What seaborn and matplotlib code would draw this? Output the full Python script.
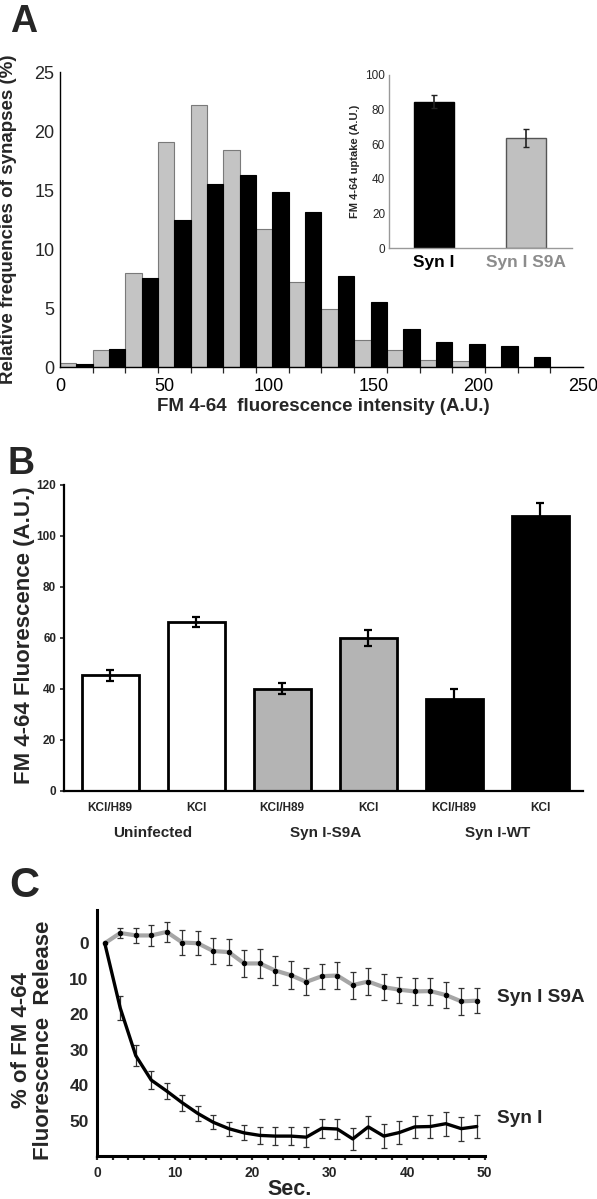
import numpy as np
import pandas as pd
import matplotlib
matplotlib.use("Agg")
import matplotlib.pyplot as plt
import matplotlib.transforms as mtransforms
import seaborn as sns

# ---- panel A: histogram of FM 4-64 intensities (16 bins over 0-250) ----
bin_count = 16
hist_max = 250
freq_s9a = [0.34, 1.41, 8.0, 19.1, 22.2, 18.4, 11.7, 7.2, 4.94, 2.32, 1.41, 0.62, 0.51, 0, 0, 0]
freq_syn = [0.28, 1.53, 7.54, 12.5, 15.5, 16.3, 14.8, 13.1, 7.68, 5.5, 3.19, 2.09, 1.92, 1.81, 0.85, 0]
hist_groups = ["Syn I S9A", "Syn I"]

# inset
inset_names = ["Syn I", "Syn I S9A"]
inset_means = [84.6, 63.5]
inset_err = [3.9, 5.2]

# ---- panel B ----
b_ids = ["u1", "u2", "s1", "s2", "w1", "w2"]
b_treat = ["KCl/H89", "KCl", "KCl/H89", "KCl", "KCl/H89", "KCl"]
b_groups = ["Uninfected", "Syn I-S9A", "Syn I-WT"]
b_means = [45.3, 66.4, 40.1, 60.1, 36.0, 107.8]
b_err = [2.1, 2.0, 2.2, 3.2, 3.9, 5.0]
b_colors = ["white", "white", "#b4b4b4", "#b4b4b4", "black", "black"]

# ---- panel C: release kinetics ----
sec = list(range(1, 50, 2))
rel_s9a = [0, -2.9, -2.2, -2.2, -3.2, -0.2, 0.0, 2.2, 2.5, 5.7, 5.7, 7.7, 9.0,
           10.9, 9.3, 9.1, 11.8, 10.8, 12.4, 13.1, 13.6, 13.5, 14.6, 16.4, 16.2]
err_s9a = [0, 1.4, 2.2, 3.0, 2.8, 3.4, 3.4, 3.7, 3.6, 3.7, 4.0, 4.0, 3.9,
           3.8, 3.5, 3.7, 3.8, 3.7, 3.7, 3.7, 3.8, 3.8, 3.7, 3.8, 3.5]
rel_syn = [0, 18.3, 31.7, 38.6, 41.7, 45.0, 48.0, 50.5, 52.3, 53.5, 54.2, 54.4, 54.4,
           54.7, 52.2, 52.4, 55.2, 51.8, 54.4, 53.4, 51.8, 51.7, 50.9, 52.3, 51.7]
err_syn = [0, 3.4, 2.9, 2.6, 2.3, 2.2, 2.0, 2.0, 2.0, 2.1, 2.3, 2.5, 2.5,
           2.8, 2.7, 2.9, 3.1, 3.0, 3.3, 3.3, 3.1, 3.3, 3.4, 3.4, 3.3]

sns.set_style("white")
plt.rcParams["font.family"] = ["Liberation Sans", "DejaVu Sans"]
narrow = ["Liberation Sans Narrow", "Liberation Sans", "DejaVu Sans"]

fig = plt.figure(figsize=(5.97, 11.99), dpi=100)

# ================= panel A =================
axA = fig.add_axes([0.1005, 0.6939, 0.876, 0.246])
bw = hist_max / bin_count
hist_df = pd.DataFrame({
    "center": [bw * (i + 0.5) for i in range(bin_count)] * 2,
    "freq": freq_s9a + freq_syn,
    "group": [hist_groups[0]] * bin_count + [hist_groups[1]] * bin_count,
})
sns.barplot(data=hist_df, x="center", y="freq", hue="group", hue_order=hist_groups,
            native_scale=True, width=1.0, dodge=True, errorbar=None,
            palette={"Syn I S9A": "#c4c4c4", "Syn I": "black"}, legend=False,
            saturation=1, ax=axA)
for cont, ec in zip(axA.containers, ["#7a7a7a", "black"]):
    for p in cont:
        p.set_edgecolor(ec)
        p.set_linewidth(0.8)
axA.set_xlim(0, hist_max)
axA.set_ylim(0, 25)
axA.set_xticks(range(0, 251, 50))
axA.set_xticks([bw * i for i in range(bin_count + 1)], minor=True)
axA.set_yticks(range(0, 26, 5))
axA.tick_params(axis="x", which="major", length=0, labelsize=13, pad=8, colors="black")
axA.tick_params(axis="x", which="minor", length=4, width=0.9, direction="out", bottom=True)
axA.tick_params(axis="y", length=0, labelsize=13, pad=4)
for s in ["top", "right"]:
    axA.spines[s].set_visible(False)
for s in ["left", "bottom"]:
    axA.spines[s].set_color("black")
    axA.spines[s].set_linewidth(1.0)
axA.set_xlabel("FM 4-64  fluorescence intensity (A.U.)", fontsize=13.5, fontweight="bold")
axA.set_ylabel("Relative frequencies of synapses (%)", fontsize=13.5, fontweight="bold")
axA.xaxis.set_label_coords(0.503, -0.105)
axA.yaxis.set_label_coords(-0.083, 0.5)

# inset
axI = fig.add_axes([0.652, 0.7929, 0.3055, 0.1446])
sns.barplot(x=inset_names, y=inset_means, hue=inset_names,
            palette=["black", "#c0c0c0"], saturation=1, width=0.44,
            errorbar=None, legend=False, ax=axI)
for p, ec in zip(axI.patches, ["black", "#555555"]):
    p.set_edgecolor(ec)
    p.set_linewidth(1.0)
axI.errorbar(range(len(inset_names)), inset_means, yerr=inset_err, fmt="none",
             ecolor="#222222", elinewidth=1.2, capsize=2.5)
axI.set_xlim(-0.49, 1.5)
axI.set_ylim(0, 100)
axI.set_yticks(range(0, 101, 20))
axI.tick_params(axis="y", length=0, labelsize=8.5, pad=3)
axI.tick_params(axis="x", length=0, labelsize=12.5, pad=5)
for lbl, c in zip(axI.get_xticklabels(), ["black", "#8c8c8c"]):
    lbl.set_color(c)
    lbl.set_fontweight("bold")
for s in ["top", "right"]:
    axI.spines[s].set_visible(False)
for s in ["left", "bottom"]:
    axI.spines[s].set_color("#999999")
    axI.spines[s].set_linewidth(1.0)
axI.set_ylabel("FM 4-64 uptake (A.U.)", fontsize=8, fontweight="bold", labelpad=4)
axI.patch.set_alpha(0)

# ================= panel B =================
axB = fig.add_axes([0.108, 0.3403, 0.869, 0.2552])
sns.barplot(x=b_ids, y=b_means, hue=b_ids, palette=b_colors, saturation=1,
            width=0.664, errorbar=None, legend=False, ax=axB)
for p in axB.patches:
    p.set_edgecolor("black")
    p.set_linewidth(2.0)
axB.errorbar(range(len(b_ids)), b_means, yerr=b_err, fmt="none", ecolor="black",
             elinewidth=1.6, capsize=3, capthick=1.6, zorder=1)
axB.set_xlim(-0.53, 5.5)
axB.set_ylim(0, 120)
axB.set_yticks(range(0, 121, 20))
axB.set_xticks(range(len(b_ids)))
axB.set_xticklabels(b_treat, family=narrow, fontweight="bold", fontsize=8.5)
for lbl in axB.get_yticklabels():
    lbl.set_family(narrow)
    lbl.set_fontweight("bold")
axB.tick_params(axis="y", length=3, width=1.2, direction="out", left=True, labelsize=8.5, pad=3)
axB.tick_params(axis="x", length=0, pad=8)
for s in ["top", "right"]:
    axB.spines[s].set_visible(False)
for s in ["left", "bottom"]:
    axB.spines[s].set_color("black")
    axB.spines[s].set_linewidth(1.6)
axB.set_ylabel("FM 4-64 Fluorescence (A.U.)", fontsize=16, fontweight="bold")
axB.yaxis.set_label_coords(-0.056, 0.51)
trB = mtransforms.blended_transform_factory(axB.transData, axB.transAxes)
for i, g in enumerate(b_groups):
    axB.text(2 * i + 0.5, -0.138, g, transform=trB, ha="center", va="center",
             family=narrow, fontweight="bold", fontsize=11)

# ================= panel C =================
axC = fig.add_axes([0.1625, 0.0359, 0.6491, 0.2052])
kin_df = pd.DataFrame({"sec": sec * 2, "rel": rel_s9a + rel_syn,
                       "line": ["Syn I S9A"] * len(sec) + ["Syn I"] * len(sec)})
axC.errorbar(sec[1:], rel_s9a[1:], yerr=err_s9a[1:], fmt="none", ecolor="#333333",
             elinewidth=0.9, capsize=2.5, capthick=0.9, zorder=1)
axC.errorbar(sec[1:], rel_syn[1:], yerr=err_syn[1:], fmt="none", ecolor="#333333",
             elinewidth=0.9, capsize=2.5, capthick=0.9, zorder=1)
sns.lineplot(data=kin_df[kin_df["line"] == "Syn I S9A"], x="sec", y="rel",
             color="#a6a6a6", linewidth=3, marker="o", markersize=3.2,
             markerfacecolor="black", markeredgecolor="black", zorder=3, ax=axC)
sns.lineplot(data=kin_df[kin_df["line"] == "Syn I"], x="sec", y="rel",
             color="black", linewidth=2.4, zorder=3, ax=axC)
axC.set_xlim(0, 50)
axC.set_ylim(60, -9.4)
axC.set_xticks(range(0, 51, 10))
axC.set_xticks(range(0, 51, 2), minor=True)
axC.set_yticks(range(0, 51, 10))
for lbl in axC.get_xticklabels() + axC.get_yticklabels():
    lbl.set_family(narrow)
    lbl.set_fontweight("bold")
axC.tick_params(axis="x", which="both", length=3, width=1.6, direction="out", bottom=True,
                labelsize=10, pad=4)
axC.tick_params(axis="y", length=0, labelsize=12.5, pad=6)
for s in ["top", "right"]:
    axC.spines[s].set_visible(False)
for s in ["left", "bottom"]:
    axC.spines[s].set_color("black")
    axC.spines[s].set_linewidth(2.2)
axC.set_xlabel("Sec.", fontsize=15.5, fontweight="bold")
axC.xaxis.set_label_coords(0.498, -0.095)
axC.set_ylabel("% of FM 4-64\nFluorescence  Release", fontsize=16, fontweight="bold",
               linespacing=1.05)
axC.yaxis.set_label_coords(-0.111, 0.47)
axC.text(51.6, 15.2, "Syn I S9A", fontsize=13.7, fontweight="bold", va="center",
         ha="left", clip_on=False)
axC.text(51.6, 49.5, "Syn I", fontsize=13.7, fontweight="bold", va="center",
         ha="left", clip_on=False)

# panel letters
fig.text(10 / 597, 1 - 4 / 1199, "A", fontsize=27, fontweight="bold", ha="left", va="top")
fig.text(8 / 597, 1 - 446 / 1199, "B", fontsize=27, fontweight="bold", ha="left", va="top")
fig.text(9 / 597, 1 - 866 / 1199, "C", fontsize=30, fontweight="bold", ha="left", va="top")

fig.savefig("out.png", dpi=100)
